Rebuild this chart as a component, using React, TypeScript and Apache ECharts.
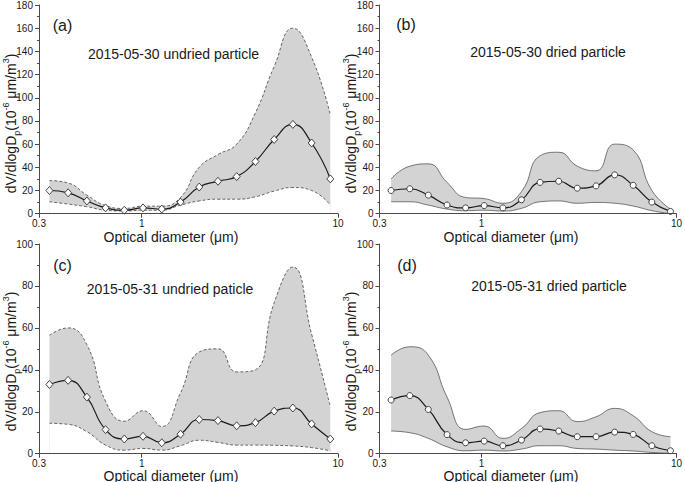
import React, { useEffect, useRef } from "react";
import * as echarts from "echarts";

// Optical diameters (µm) of the size channels
const undriedD = [0.339, 0.422, 0.526, 0.655, 0.816, 1.016, 1.266, 1.577, 1.964, 2.447, 3.048, 3.797, 4.73, 5.89, 7.34, 9.14];
const driedD = [0.344, 0.429, 0.534, 0.666, 0.829, 1.033, 1.288, 1.604, 1.999, 2.49, 3.1, 3.87, 4.82, 6.0, 7.48, 9.32];

// (a) 2015-05-30 undried
const meanA = [20, 18, 11, 5, 3, 5, 4, 10, 23, 28, 32, 45, 64, 77, 61, 30];
const upperA = [28.6, 26.5, 16, 7, 4.5, 6.5, 6.5, 14, 40, 51, 60, 87, 127, 160, 135, 85];
const lowerA = [10.3, 8.3, 6, 3, 2.3, 3, 3, 7.4, 11, 12.5, 12.5, 14.6, 19.5, 22.6, 20, 7.4];

// (b) 2015-05-30 dried
const meanB = [20, 21.5, 16, 7.5, 5, 7, 5, 12, 27, 28, 22, 24, 33.5, 24.5, 10, 2];
const upperB = [30, 41, 43, 27, 14, 13, 9, 19, 50, 53, 41, 37, 60, 55, 20, 4];
const lowerB = [10.3, 10.3, 7.4, 4, 2.6, 3, 2.3, 4.6, 10.3, 11, 9, 9.7, 9, 6.6, 2.6, 0];

// (c) 2015-05-31 undried
const meanC = [33, 35, 27, 11.5, 7, 8.3, 5.2, 9.3, 16.3, 15.8, 13.3, 14.8, 20.3, 21.8, 14.2, 7];
const upperC = [56.5, 60, 52, 25, 15.5, 20.5, 13, 29, 48.5, 50, 39, 40, 72, 89, 57, 22.5];
const lowerC = [14.5, 14, 10.5, 4.1, 1.7, 2.5, 1.7, 3.8, 6.4, 5.4, 4.1, 4.1, 4, 3.7, 2.9, 1.4];

// (d) 2015-05-31 dried
const meanD = [25.6, 27.7, 21.1, 9.1, 5.2, 6, 3.8, 6.5, 11.8, 10.8, 8.1, 8.1, 10.3, 9.2, 3.8, 1.4];
const upperD = [47, 51, 47, 27, 11.6, 13.2, 7.3, 12, 19.6, 20.5, 15.3, 17.6, 21.6, 18.1, 10.5, 8.1];
const lowerD = [10.8, 10, 7.3, 3.3, 1.4, 1.7, 1.3, 2.2, 3.8, 3.8, 2.5, 2.2, 1.7, 1.3, 0.6, 0.2];

const xTickValues = [0.3, 1, 10];
const yMaxTop = 180;
const yMaxBottom = 100;

const titles = ["2015-05-30 undried particle", "2015-05-30 dried particle", "2015-05-31 undried paticle", "2015-05-31 dried particle"];
const letters = ["(a)", "(b)", "(c)", "(d)"];

const FONT = "'Liberation Sans', Arial, Helvetica, sans-serif";
const AXIS_COLOR = "#4a4a4a";
const TEXT_COLOR = "#1a1a1a";

export default function App() {
  const ref = useRef<HTMLDivElement>(null);

  useEffect(() => {
    if (!ref.current) return;
    const chart = echarts.init(ref.current, undefined, { renderer: "svg" });
    const LOG_MIN = Math.log10(0.3);
    const tickVals = xTickValues.map((v) => Math.log10(v));

    const grids = [
      { left: 39, top: 4, width: 299, height: 209.7 },
      { left: 379.5, top: 4, width: 299, height: 209.7 },
      { left: 39, top: 244, width: 299, height: 209.7 },
      { left: 379.5, top: 244, width: 299, height: 209.7 },
    ];

    const panels = [
      { d: undriedD, mean: meanA, upper: upperA, lower: lowerA, dashed: true, symbol: "diamond", ymax: yMaxTop },
      { d: driedD, mean: meanB, upper: upperB, lower: lowerB, dashed: false, symbol: "circle", ymax: yMaxTop },
      { d: undriedD, mean: meanC, upper: upperC, lower: lowerC, dashed: true, symbol: "diamond", ymax: yMaxBottom },
      { d: driedD, mean: meanD, upper: upperD, lower: lowerD, dashed: false, symbol: "circle", ymax: yMaxBottom },
    ];

    const xAxes = panels.map((_, i) => ({
      gridIndex: i,
      type: "value",
      min: LOG_MIN,
      max: 1,
      z: 10,
      axisLine: { show: true, onZero: false, lineStyle: { color: AXIS_COLOR, width: 1 } },
      axisTick: { show: true, customValues: tickVals, length: 4, lineStyle: { color: AXIS_COLOR } },
      axisLabel: {
        show: true,
        customValues: tickVals,
        fontSize: 10,
        lineHeight: 10,
        fontFamily: FONT,
        color: TEXT_COLOR,
        margin: 4.5,
        formatter: (v: number) => String(Math.round(Math.pow(10, v) * 10) / 10),
      },
      splitLine: { show: false },
    }));

    const yAxes = panels.map((p, i) => ({
      gridIndex: i,
      type: "value",
      min: 0,
      max: p.ymax,
      interval: 20,
      z: 10,
      axisLine: { show: true, onZero: false, lineStyle: { color: AXIS_COLOR, width: 1 } },
      axisTick: { show: true, length: 4, lineStyle: { color: AXIS_COLOR } },
      minorTick: { show: true, splitNumber: 2, length: 2, lineStyle: { color: AXIS_COLOR } },
      axisLabel: { fontSize: 10, fontFamily: FONT, color: TEXT_COLOR, margin: 6 },
      splitLine: { show: false },
    }));

    const series: any[] = [];
    panels.forEach((p, i) => {
      const xs = p.d.map((v) => Math.log10(v));
      const bandLine = p.dashed
        ? { color: "#555", width: 0.9, type: [3, 2] }
        : { color: "#555", width: 0.8, type: "solid" };
      // upper envelope, filled grey down to the axis
      series.push({
        type: "line",
        xAxisIndex: i,
        yAxisIndex: i,
        smooth: true,
        symbol: "none",
        lineStyle: bandLine,
        areaStyle: { color: "#d3d3d3", opacity: 1 },
        data: xs.map((x, k) => [x, p.upper[k]]),
        z: 2,
      });
      // lower envelope, filled white down to the axis (clears the band below it)
      series.push({
        type: "line",
        xAxisIndex: i,
        yAxisIndex: i,
        smooth: true,
        symbol: "none",
        lineStyle: bandLine,
        areaStyle: { color: "#ffffff", opacity: 1 },
        data: xs.map((x, k) => [x, p.lower[k]]),
        z: 3,
      });
      // mean
      series.push({
        type: "line",
        xAxisIndex: i,
        yAxisIndex: i,
        smooth: true,
        symbol: p.symbol,
        symbolSize: p.symbol === "diamond" ? [7, 8] : 6,
        lineStyle: { color: "#1a1a1a", width: 1.2 },
        itemStyle: { color: "#ffffff", borderColor: "#333", borderWidth: 0.9 },
        data: xs.map((x, k) => [x, p.mean[k]]),
        z: 4,
      });
    });

    const yName = {
      text: "dV/dlogD{sub|p}(10{sup|-6} μm/m{sup|3})",
      fontSize: 14,
      fontFamily: FONT,
      fill: TEXT_COLOR,
      lineHeight: 20,
      align: "center",
      verticalAlign: "middle",
      textAlign: "center",
      textVerticalAlign: "middle",
      rich: {
        sub: { fontSize: 9, fontFamily: FONT, fill: TEXT_COLOR, lineHeight: 9, verticalAlign: "bottom" },
        sup: { fontSize: 9, fontFamily: FONT, fill: TEXT_COLOR, lineHeight: 9, verticalAlign: "top" },
      },
    };

    const txt = (text: string, x: number, y: number, fontSize: number, lh?: number) => ({
      type: "text",
      x,
      y,
      style: {
        text,
        fontSize,
        lineHeight: lh || fontSize,
        fontFamily: FONT,
        fill: TEXT_COLOR,
        align: "center",
        verticalAlign: "middle",
        textAlign: "center",
        textVerticalAlign: "middle",
      },
    });

    const yNamePos = [
      [11, 123.5],
      [351, 123.5],
      [11, 361.5],
      [351, 361.5],
    ];
    const titlePos = [
      [173.5, 54],
      [548, 51.5],
      [170, 289],
      [549, 286],
    ];
    const letterPos = [
      [62.5, 25],
      [406, 24.5],
      [62.5, 265],
      [407, 265],
    ];
    const xNamePos = [
      [171, 236.5],
      [511, 236.5],
      [171, 475.5],
      [511, 475.5],
    ];

    const graphic: any[] = [];
    for (let i = 0; i < 4; i++) {
      graphic.push({
        type: "text",
        x: yNamePos[i][0],
        y: yNamePos[i][1],
        rotation: Math.PI / 2,
        style: { ...yName },
      });
      graphic.push(txt(titles[i], titlePos[i][0], titlePos[i][1], 14));
      graphic.push(txt(letters[i], letterPos[i][0], letterPos[i][1], 16));
      graphic.push(txt("Optical diameter (μm)", xNamePos[i][0], xNamePos[i][1], 14, 12));
    }

    chart.setOption({
      animation: false,
      backgroundColor: "#ffffff",
      grid: grids,
      xAxis: xAxes,
      yAxis: yAxes,
      series,
      graphic,
    });

    return () => chart.dispose();
  }, []);

  return (
    <div
      ref={ref}
      style={{ position: "absolute", left: 0, top: 0, width: 685, height: 482 }}
    />
  );
}
